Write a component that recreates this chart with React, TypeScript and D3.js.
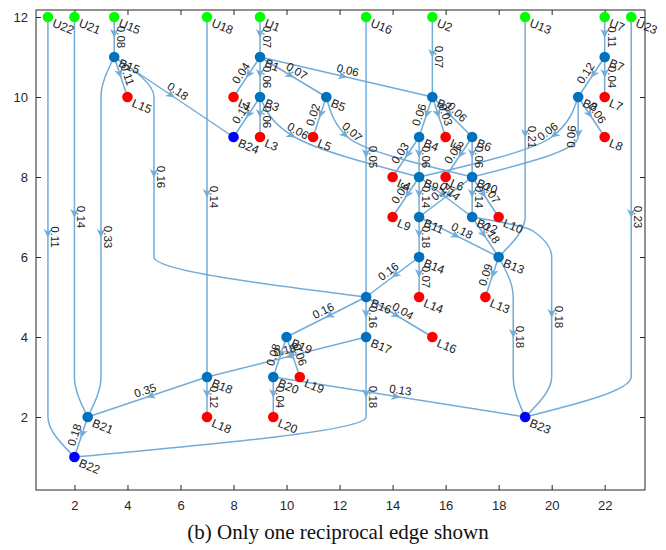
import React, { useEffect, useRef } from "react";
import * as d3 from "d3";

// ---------- data ----------
const nodeIds = [
  "U22", "U21", "U15", "U18", "U1", "U16", "U2", "U13", "U7", "U23",
  "B15", "L15", "B1", "L1", "B3", "B24", "L3", "B5", "L5", "B2",
  "B4", "L2", "B6", "B7", "L7", "B8", "L8", "L4", "B9", "L6",
  "B10", "L9", "B11", "B12", "L10", "B13", "B14", "L14", "L13", "B16",
  "L16", "B17", "B19", "B18", "B20", "L19", "L18", "L20", "B21", "B22", "B23",
];
const nodeXs = [
  1, 2, 3.5, 7, 9, 13, 15.5, 19, 22, 23,
  3.5, 4, 9, 8, 9, 8, 9, 11.5, 11, 15.5,
  15, 16, 17, 22, 22, 21, 22, 14, 15, 16,
  17, 14, 15, 17, 18, 18, 15, 15, 17.5, 13,
  15.5, 13, 10, 7, 9.5, 10.5, 7, 9.5, 2.5, 2, 19,
];
const nodeYs = [
  12, 12, 12, 12, 12, 12, 12, 12, 12, 12,
  11, 10, 11, 10, 10, 9, 9, 10, 9, 10,
  9, 9, 9, 11, 10, 10, 9, 8, 8, 8,
  8, 7, 7, 7, 7, 6, 6, 5, 5, 5,
  4, 4, 4, 3, 3, 3, 2, 2, 2, 1, 2,
];
const sinkBuses = ["B22", "B23", "B24"];

const edgeFrom = [
  "U22", "U21", "U15", "B15", "B15", "B15", "B15", "U18", "U1", "B1",
  "B1", "B1", "B1", "B3", "B3", "B3", "B5", "B5", "U16", "U2",
  "B2", "B2", "B2", "B4", "B4", "B6", "B6", "U13", "U7", "B7",
  "B7", "B8", "B8", "B8", "U23", "B9", "B9", "B9", "B10", "B10",
  "B10", "B11", "B11", "B12", "B12", "B13", "B13", "B14", "B14", "B16",
  "B16", "B16", "B17", "B17", "B19", "B19", "B18", "B18", "B20", "B20", "B21",
];
const edgeTo = [
  "B22", "B21", "B15", "L15", "B24", "B21", "B16", "B18", "B1", "L1",
  "B3", "B5", "B2", "B24", "L3", "B9", "L5", "B10", "B16", "B2",
  "B4", "L2", "B6", "L4", "B9", "L6", "B10", "B13", "B7", "L7",
  "B8", "L8", "B9", "B10", "B23", "L9", "B11", "B12", "B11", "B12",
  "L10", "B14", "B13", "B13", "B23", "L13", "B23", "L14", "B16", "L16",
  "B17", "B19", "B18", "B22", "B20", "L19", "L18", "B21", "L20", "B23", "B22",
];
const edgeWeights = [
  "0.11", "0.14", "0.08", "0.11", "0.18", "0.33", "0.16", "0.14", "0.07", "0.04",
  "0.06", "0.07", "0.06", "0.14", "0.06", "0.06", "0.02", "0.07", "0.05", "0.07",
  "0.06", "0.03", "0.06", "0.03", "0.06", "0.05", "0.06", "0.21", "0.11", "0.04",
  "0.12", "0.06", "0.06", "0.06", "0.23", "0.06", "0.14", "0.14", "0.14", "0.14",
  "0.07", "0.18", "0.18", "0.18", "0.18", "0.09", "0.18", "0.07", "0.16", "0.04",
  "0.16", "0.16", "0.18", "0.18", "0.08", "0.06", "0.12", "0.35", "0.04", "0.13", "0.18",
];
// layered-layout bend points (data units) for edges spanning several layers
const edgeBends: [number, number][][] = [
  [[1, 2]], [[2, 3]], [], [], [], [[3, 10], [3, 3]], [[5, 10], [5, 6]], [], [], [],
  [], [], [], [], [], [[10.3, 9]], [], [[12.3, 9]], [], [],
  [], [], [], [], [], [], [], [[19, 7]], [], [],
  [], [], [[20, 9]], [[21, 9]], [[23, 3]], [], [], [], [], [],
  [], [], [], [], [[19.3, 6.65], [20, 6], [20, 3]], [], [[18.55, 5], [18.55, 3]], [], [], [],
  [], [], [], [[13, 2]], [], [], [], [], [], [], [],
];

const xTicks = [2, 4, 6, 8, 10, 12, 14, 16, 18, 20, 22];
const yTicks = [2, 4, 6, 8, 10, 12];
const title = "(b) Only one reciprocal edge shown";

// ---------- style ----------
const EDGE_COLOR = "#72acd9";
const AXIS_COLOR = "#262626";
const SANS = "'Liberation Sans', Arial, Helvetica, sans-serif";

function nodeColor(id: string) {
  if (id.startsWith("U")) return "#00ff00";
  if (id.startsWith("L")) return "#ff0000";
  if (sinkBuses.includes(id)) return "#0000ff";
  return "#0072bd";
}

export default function App() {
  const ref = useRef<SVGSVGElement>(null);

  useEffect(() => {
    const svg = d3.select(ref.current);
    svg.selectAll("*").remove();

    const x = d3.scaleLinear().domain([0.55, 23.52]).range([36, 645]);
    const y = d3.scaleLinear().domain([0.175, 12.175]).range([490, 10]);

    const pos = new Map<string, [number, number]>();
    nodeIds.forEach((id, i) => pos.set(id, [nodeXs[i], nodeYs[i]]));

    // axes
    const axG = svg.append("g");
    axG
      .append("g")
      .attr("transform", `translate(0,490)`)
      .call(d3.axisBottom(x).tickValues(xTicks).tickSize(-5).tickPadding(11).tickFormat(d3.format("d")))
      .call((g) => g.select(".domain").remove());
    axG
      .append("g")
      .attr("transform", `translate(0,10)`)
      .call(d3.axisTop(x).tickValues(xTicks).tickSize(-5).tickFormat(() => ""))
      .call((g) => g.select(".domain").remove());
    axG
      .append("g")
      .attr("transform", `translate(36,0)`)
      .call(d3.axisLeft(y).tickValues(yTicks).tickSize(-5).tickPadding(8).tickFormat(d3.format("d")))
      .call((g) => g.select(".domain").remove());
    axG
      .append("g")
      .attr("transform", `translate(645,0)`)
      .call(d3.axisRight(y).tickValues(yTicks).tickSize(-5).tickFormat(() => ""))
      .call((g) => g.select(".domain").remove());
    axG.selectAll("line").attr("stroke", AXIS_COLOR);
    axG
      .selectAll("text")
      .attr("fill", AXIS_COLOR)
      .style("font-family", SANS)
      .style("font-size", "13px");
    axG
      .append("rect")
      .attr("x", 36)
      .attr("y", 10)
      .attr("width", 609)
      .attr("height", 480)
      .attr("fill", "none")
      .attr("stroke", AXIS_COLOR)
      .attr("stroke-width", 1);

    const line = d3
      .line<[number, number]>()
      .x((d) => x(d[0]))
      .y((d) => y(d[1]))
      .curve(d3.curveMonotoneY);

    const edgeG = svg.append("g");
    const arrowG = svg.append("g");
    const nodeG = svg.append("g");
    const labelG = svg.append("g");

    edgeFrom.forEach((s, i) => {
      const t = edgeTo[i];
      const pts: [number, number][] = [pos.get(s)!, ...edgeBends[i], pos.get(t)!];
      const p = edgeG
        .append("path")
        .attr("d", line(pts) as string)
        .attr("fill", "none")
        .attr("stroke", EDGE_COLOR)
        .attr("stroke-width", 1.5);
      const node = p.node() as SVGPathElement;
      const total = node.getTotalLength();
      const midY = (y(pts[0][1]) + y(pts[pts.length - 1][1])) / 2;
      let lo = 0,
        hi = total;
      for (let k = 0; k < 40; k++) {
        const m = (lo + hi) / 2;
        if (node.getPointAtLength(m).y < midY) lo = m;
        else hi = m;
      }
      const L = (lo + hi) / 2;
      const P = node.getPointAtLength(L);
      const A = node.getPointAtLength(Math.max(0, L - 1));
      const B = node.getPointAtLength(Math.min(total, L + 1));
      const ang = (Math.atan2(B.y - A.y, B.x - A.x) * 180) / Math.PI;
      arrowG
        .append("path")
        .attr("d", "M1,0L-8,-4.2L-5.5,0L-8,4.2Z")
        .attr("fill", EDGE_COLOR)
        .attr("transform", `translate(${P.x},${P.y}) rotate(${ang})`);
      let la = ang;
      if (la > 90.5) la -= 180;
      if (la < -90) la += 180;
      labelG
        .append("text")
        .attr("transform", `translate(${P.x},${P.y}) rotate(${la})`)
        .attr("y", -3)
        .attr("text-anchor", "middle")
        .style("font-family", SANS)
        .style("font-size", "11.5px")
        .attr("fill", "#1a1a1a")
        .text(edgeWeights[i]);
    });

    nodeIds.forEach((id, i) => {
      const cx = x(nodeXs[i]);
      const cy = y(nodeYs[i]);
      nodeG
        .append("circle")
        .attr("cx", cx)
        .attr("cy", cy)
        .attr("r", 5.3)
        .attr("fill", nodeColor(id));
      labelG
        .append("text")
        .attr("transform", `translate(${cx + 7},${cy + 1}) rotate(22)`)
        .attr("y", 9)
        .style("font-family", SANS)
        .style("font-size", "12px")
        .attr("fill", "#1a1a1a")
        .text(id);
    });

    svg
      .append("text")
      .attr("x", 338)
      .attr("y", 539)
      .attr("text-anchor", "middle")
      .style("font-family", "'Liberation Serif', 'Times New Roman', serif")
      .style("font-size", "21px")
      .attr("fill", "#111")
      .text(title);
  }, []);

  return (
    <svg
      ref={ref}
      width={666}
      height={550}
      style={{ position: "absolute", left: 0, top: 0, background: "#fff" }}
    />
  );
}
